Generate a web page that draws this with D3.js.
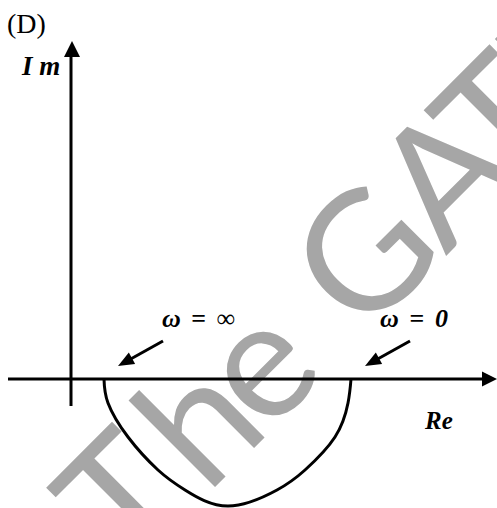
<!DOCTYPE html>
<html>
<head>
<meta charset="utf-8">
<script src="https://cdn.jsdelivr.net/npm/d3@7"></script>
<style>
  body { margin: 0; background: #fff; }
  svg { display: block; }
</style>
</head>
<body>
<div id="chart-area"></div>
<script>
// Nyquist locus (Re, Im units, origin at the axes crossing)
const curveRe = [3.3, 3.7, 5.7, 8.7, 11.4, 15.7, 20.6, 23.4, 26.4, 27.7, 28.0];
const curveIm = [0, -2.4, -5.8, -9.1, -11.1, -12.7, -11.1, -9.1, -5.8, -2.4, 0];

// axes extent
const reAxis = [-6.3, 42.6];
const imAxis = [-2.7, 33.8];

// pointer arrows [re, im]
const pointerFrom = [[9.2, 3.8], [33.9, 3.8]];
const pointerTo = [[4.7, 1.3], [29.4, 1.3]];

// labels
const freqLabels = ["∞", "0"];
const freqLabelPos = [[9.1, 5.2], [30.9, 5.2]];
const freqLabelWidth = [73, 68];

// watermark
const wmLetters = ["T", "h", "e", "G", "A", "T", "E"];
const wmOffset = [44, 152, 234, 387, 500, 578, 665];

const svg = d3.select("#chart-area")
    .append("svg")
    .attr("width", 497)
    .attr("height", 508);

const x = d3.scaleLinear().domain([0, 10]).range([71, 171]);
const y = d3.scaleLinear().domain([0, 10]).range([379, 279]);

// watermark behind everything
const wm = svg.append("g")
    .attr("transform", "translate(132,570) rotate(-45)");
wm.selectAll("text")
    .data(wmLetters)
    .enter().append("text")
    .attr("x", (d, i) => wmOffset[i])
    .attr("y", 0)
    .attr("text-anchor", "middle")
    .attr("font-family", "Lato, 'DejaVu Sans', sans-serif")
    .attr("font-size", 166)
    .attr("fill", "#a6a6a6")
    .text(d => d);

// axes
svg.append("line")
    .attr("x1", x(reAxis[0])).attr("x2", x(reAxis[1]) - 10)
    .attr("y1", y(0)).attr("y2", y(0))
    .attr("stroke", "#000").attr("stroke-width", 3);
svg.append("path")
    .attr("d", "M" + x(reAxis[1]) + "," + y(0) +
        "L" + (x(reAxis[1]) - 15) + "," + (y(0) - 7.5) +
        "L" + (x(reAxis[1]) - 15) + "," + (y(0) + 7.5) + "Z")
    .attr("fill", "#000");

svg.append("line")
    .attr("x1", x(0)).attr("x2", x(0))
    .attr("y1", y(imAxis[0])).attr("y2", y(imAxis[1]) + 10)
    .attr("stroke", "#000").attr("stroke-width", 3);
svg.append("path")
    .attr("d", "M" + (x(0) + 1) + "," + y(imAxis[1]) +
        "L" + (x(0) - 7) + "," + (y(imAxis[1]) + 16) +
        "L" + (x(0) + 9) + "," + (y(imAxis[1]) + 16) + "Z")
    .attr("fill", "#000");

// locus
const pts = curveRe.map((r, i) => [r, curveIm[i]]);
svg.append("path")
    .datum(pts)
    .attr("d", d3.line().x(d => x(d[0])).y(d => y(d[1])).curve(d3.curveNatural))
    .attr("fill", "none")
    .attr("stroke", "#000")
    .attr("stroke-width", 3);

// pointer arrows
pointerFrom.forEach(function (f, i) {
    const t = pointerTo[i];
    const x1 = x(f[0]), y1 = y(f[1]), x2 = x(t[0]), y2 = y(t[1]);
    const a = Math.atan2(y2 - y1, x2 - x1);
    const len = 16, hw = 6.5;
    const bx = x2 - len * Math.cos(a), by = y2 - len * Math.sin(a);
    svg.append("line")
        .attr("x1", x1).attr("y1", y1)
        .attr("x2", bx + 2 * Math.cos(a)).attr("y2", by + 2 * Math.sin(a))
        .attr("stroke", "#000").attr("stroke-width", 3);
    svg.append("path")
        .attr("d", "M" + x2 + "," + y2 +
            "L" + (bx + hw * Math.sin(a)) + "," + (by - hw * Math.cos(a)) +
            "L" + (bx - hw * Math.sin(a)) + "," + (by + hw * Math.cos(a)) + "Z")
        .attr("fill", "#000");
});

// frequency labels
freqLabels.forEach(function (lab, i) {
    const t = svg.append("text")
        .attr("x", x(freqLabelPos[i][0]))
        .attr("y", y(freqLabelPos[i][1]))
        .attr("textLength", freqLabelWidth[i])
        .attr("lengthAdjust", "spacing")
        .attr("font-family", "'Liberation Serif', 'Times New Roman', serif")
        .attr("font-size", 26)
        .attr("fill", "#000");
    t.append("tspan").attr("font-weight", "bold").attr("font-style", "italic").text("ω");
    t.append("tspan").attr("font-weight", "bold").text(" = ");
    if (lab === "∞") {
        t.append("tspan").text(lab);
    } else {
        t.append("tspan").attr("font-weight", "bold").attr("font-style", "italic").text(lab);
    }
});

// axis labels
svg.append("text")
    .attr("x", x(35.4)).attr("y", y(-5.0))
    .attr("font-family", "'Liberation Serif', 'Times New Roman', serif")
    .attr("font-size", 25).attr("font-weight", "bold").attr("font-style", "italic")
    .text("Re");

svg.append("text")
    .attr("x", x(-4.9)).attr("y", y(30.4))
    .attr("font-family", "'Liberation Serif', 'Times New Roman', serif")
    .attr("font-size", 27).attr("font-weight", "bold").attr("font-style", "italic")
    .text("I m");

svg.append("text")
    .attr("x", 7).attr("y", 33)
    .attr("font-family", "'Liberation Serif', 'Times New Roman', serif")
    .attr("font-size", 28)
    .text("(D)");
</script>
</body>
</html>
